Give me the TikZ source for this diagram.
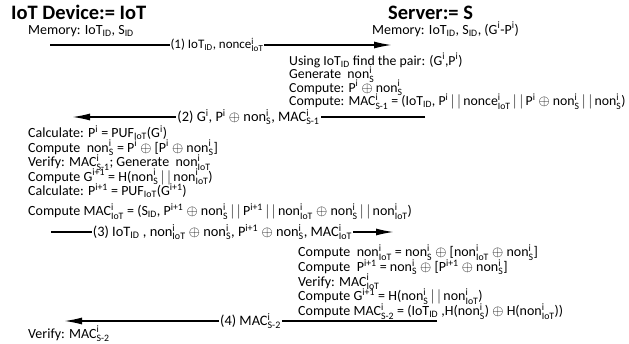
\documentclass[tikz,border=0pt]{standalone}
\usepackage{fontspec}
\usepackage{amsmath}
\setmainfont{Carlito}
\usetikzlibrary{arrows.meta,positioning}

\newcommand{\supx}[1]{$^{\text{#1}}$}
\newcommand{\subx}[1]{$_{\text{#1}}$}
\newcommand{\supsub}[2]{$^{\text{#1}}_{\text{#2}}$}
\newcommand{\bars}{\,$|\,|$\,}
\newcommand{\tightlines}{\lineskiplimit-20pt\relax}

\tikzset{
  ttl/.style={font=\fontsize{20.5}{22}\selectfont\bfseries,inner sep=0pt},
  txt/.style={font=\fontsize{14}{14.5}\selectfont\tightlines,align=left,inner sep=0pt},
  lbl/.style={font=\fontsize{14.4}{14}\selectfont,fill=white,inner sep=1pt},
  msg/.style={line width=1.6pt,-{Latex[length=18pt,width=7pt]}}
}

\begin{document}
\begin{tikzpicture}[x=1pt,y=-1pt]
      \useasboundingbox (0,0) rectangle (629,343);
      \node[ttl,anchor=base west] (dev) at (11,19) {IoT Device:= IoT};
      \node[ttl,anchor=base west] (srv) at (388,19) {Server:= S};
      \node[txt,anchor=base west] (dmem) at (28,34) {Memory: IoT\subx{ID}, S\subx{ID}};
      \node[txt,anchor=base west] (smem) at (372,34) {Memory: IoT\subx{ID}, S\subx{ID}, (G\supx{i}-P\supx{i})};
      % step 1
      \coordinate (m1a) at (50,45);
      \coordinate (m1b) at (392,45);
      \draw[msg] (m1a) -- node[lbl,font=\fontsize{13}{13}\selectfont,xshift=-4pt] (l1) {(1) IoT\subx{ID}, nonce\supsub{i}{IoT}} (m1b);
      \node[txt,anchor=base west,font=\fontsize{13.8}{13.5}\selectfont\tightlines] (s1) at (289,105.5) {Using IoT\subx{ID} find the pair: (G\supx{i},P\supx{i})\\
        Generate~ non\supsub{i}{S}\\
        Compute: P\supx{i} $\oplus$ non\supsub{i}{S}\\
        Compute: MAC\supsub{i}{S-1} = (IoT\subx{ID}, P\supx{i}\bars nonce\supsub{i}{IoT}\bars P\supx{i} $\oplus$ non\supsub{i}{S}\bars non\supsub{i}{S})};
      % step 2
      \coordinate (m2a) at (425,117);
      \coordinate (m2b) at (72,117);
      \draw[msg] (m2a) -- node[lbl] (l2) {(2) G\supx{i}, P\supx{i} $\oplus$ non\supsub{i}{S}, MAC\supsub{i}{S-1}} (m2b);
      \node[txt,anchor=base west] (d1) at (28,215.5) {Calculate: P\supx{i} = PUF\subx{IoT}(G\supx{i})\\
        Compute~ non\supsub{i}{S} = P\supx{i} $\oplus$ [P\supx{i} $\oplus$ non\supsub{i}{S}]\\
        Verify: MAC\supsub{i}{S-1}; Generate~ non\supsub{i}{IoT}\\
        Compute G\supx{i+1} = H(non\supsub{i}{S}\bars non\supsub{i}{IoT})\\
        Calculate: P\supx{i+1} = PUF\subx{IoT}(G\supx{i+1})\\[5.5pt]
        Compute MAC\supsub{i}{IoT} = (S\subx{ID}, P\supx{i+1} $\oplus$ non\supsub{i}{S}\bars P\supx{i+1}\bars non\supsub{i}{IoT} $\oplus$ non\supsub{i}{S}\bars non\supsub{i}{IoT})};
      % step 3
      \coordinate (m3a) at (51,232);
      \coordinate (m3b) at (394,232);
      \draw[msg] (m3a) -- node[lbl] (l3) {(3) IoT\subx{ID} , non\supsub{i}{IoT} $\oplus$ non\supsub{i}{S}, P\supx{i+1} $\oplus$ non\supsub{i}{S}, MAC\supsub{i}{IoT}} (m3b);
      \node[txt,anchor=base west,font=\fontsize{14}{14.75}\selectfont\tightlines] (s2) at (298,315.5) {Compute~ non\supsub{i}{IoT} = non\supsub{i}{S} $\oplus$ [non\supsub{i}{IoT} $\oplus$ non\supsub{i}{S}]\\
        Compute~ P\supx{i+1} = non\supsub{i}{S} $\oplus$ [P\supx{i+1} $\oplus$ non\supsub{i}{S}]\\
        Verify: MAC\supsub{i}{IoT}\\
        Compute G\supx{i+1} = H(non\supsub{i}{S}\bars non\supsub{i}{IoT})\\
        Compute MAC\supsub{i}{S-2} = (IoT\subx{ID} ,H(non\supsub{i}{S}) $\oplus$ H(non\supsub{i}{IoT}))};
      % step 4
      \coordinate (m4a) at (437,321);
      \coordinate (m4b) at (64,321);
      \draw[msg] (m4a) -- node[lbl] (l4) {(4) MAC\supsub{i}{S-2}} (m4b);
      \node[txt,anchor=base west] (d2) at (28,338) {Verify: MAC\supsub{i}{S-2}};
    \end{tikzpicture}
\end{document}
